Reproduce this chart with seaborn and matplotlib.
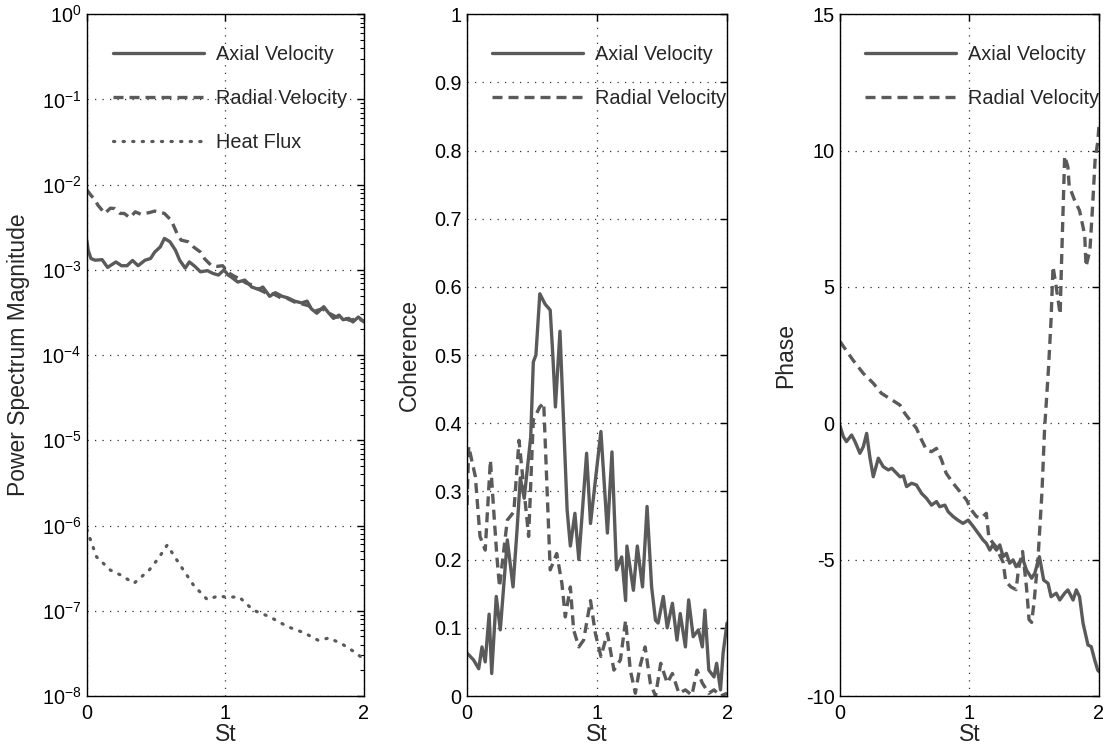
import numpy as np
import pandas as pd
import matplotlib
matplotlib.use("Agg")
import matplotlib.pyplot as plt
import matplotlib.ticker as mticker
import seaborn as sns

# ---- data ----
# panel 1: power spectrum magnitude (log scale)
psd_ax_st = [0.0, 0.01, 0.03, 0.06, 0.11, 0.15, 0.21, 0.25, 0.29, 0.33, 0.37, 0.42, 0.46, 0.49, 0.53,
             0.56, 0.60, 0.64, 0.67, 0.71, 0.74, 0.78, 0.82, 0.87, 0.91, 0.95, 0.99, 1.02, 1.04, 1.09,
             1.14, 1.19, 1.24, 1.27, 1.32, 1.36, 1.41, 1.45, 1.50, 1.55, 1.59, 1.62, 1.66, 1.71, 1.74,
             1.78, 1.82, 1.85, 1.89, 1.92, 1.96, 2.0]
psd_ax = [2.2e-3, 1.7e-3, 1.36e-3, 1.30e-3, 1.32e-3, 1.07e-3, 1.24e-3, 1.12e-3, 1.12e-3, 1.29e-3,
          1.12e-3, 1.30e-3, 1.36e-3, 1.62e-3, 1.86e-3, 2.34e-3, 2.14e-3, 1.70e-3, 1.30e-3, 1.05e-3,
          1.24e-3, 1.10e-3, 9.5e-4, 9.8e-4, 9.1e-4, 8.7e-4, 1.0e-3, 8.7e-4, 8.3e-4, 7.2e-4,
          7.6e-4, 6.3e-4, 5.9e-4, 6.3e-4, 4.9e-4, 5.4e-4, 4.9e-4, 4.7e-4, 4.3e-4, 4.1e-4,
          4.3e-4, 3.5e-4, 3.1e-4, 3.7e-4, 3.2e-4, 2.7e-4, 2.95e-4, 2.6e-4, 2.7e-4, 2.45e-4,
          2.8e-4, 2.45e-4]

psd_rad_st = [0.0, 0.03, 0.06, 0.08, 0.13, 0.17, 0.20, 0.24, 0.27, 0.31, 0.35, 0.39, 0.45, 0.49, 0.56,
              0.61, 0.65, 0.68, 0.73, 0.77, 0.82, 0.85, 0.90, 0.94, 0.98, 1.03, 1.06, 1.10, 1.15, 1.20,
              1.25, 1.30, 1.35, 1.40, 1.45, 1.50, 1.55, 1.60, 1.65, 1.70, 1.75, 1.80, 1.85, 1.90, 1.95,
              2.0]
psd_rad = [8.7e-3, 7.5e-3, 6.6e-3, 5.75e-3, 4.6e-3, 5.3e-3, 5.25e-3, 4.6e-3, 4.6e-3, 4.1e-3,
           4.8e-3, 4.5e-3, 4.7e-3, 4.9e-3, 4.6e-3, 3.8e-3, 2.7e-3, 2.24e-3, 2.14e-3, 1.86e-3,
           1.62e-3, 1.35e-3, 1.12e-3, 1.1e-3, 1.12e-3, 9.1e-4, 8.5e-4, 7.9e-4, 7.0e-4, 6.6e-4,
           5.8e-4, 5.3e-4, 5.2e-4, 4.7e-4, 4.6e-4, 4.2e-4, 4.0e-4, 3.8e-4, 3.3e-4, 3.5e-4,
           3.1e-4, 2.8e-4, 2.75e-4, 2.55e-4, 2.7e-4, 2.5e-4]

psd_hf_st = [0.0, 0.07, 0.17, 0.25, 0.34, 0.45, 0.52, 0.58, 0.67, 0.77, 0.87, 0.95, 1.0, 1.1, 1.2,
             1.32, 1.45, 1.57, 1.67, 1.75, 1.85, 1.93, 2.0]
psd_hf = [9.0e-7, 4.3e-7, 3.0e-7, 2.6e-7, 2.1e-7, 3.0e-7, 4.2e-7, 5.9e-7, 3.5e-7, 2.0e-7,
          1.35e-7, 1.5e-7, 1.45e-7, 1.45e-7, 1.02e-7, 8.5e-8, 6.5e-8, 5.5e-8, 4.5e-8, 4.8e-8,
          4.0e-8, 3.3e-8, 2.7e-8]
psd_ticks = [1e-8, 1e-7, 1e-6, 1e-5, 1e-4, 1e-3, 1e-2, 1e-1, 1e0]

# panel 2: coherence
coh_ax_st = [0.0, 0.05, 0.09, 0.115, 0.14, 0.17, 0.19, 0.225, 0.256, 0.31, 0.354, 0.385, 0.41, 0.44, 0.49,
             0.51, 0.53, 0.56, 0.60, 0.64, 0.66, 0.68, 0.715, 0.77, 0.795, 0.83, 0.86, 0.92, 0.95, 1.03,
             1.08, 1.115, 1.15, 1.19, 1.22, 1.23, 1.28, 1.31, 1.35, 1.385, 1.42, 1.45, 1.47, 1.51, 1.54,
             1.58, 1.615, 1.64, 1.68, 1.705, 1.74, 1.78, 1.81, 1.83, 1.86, 1.9, 1.92, 1.95, 1.97, 2.0]
coh_ax = [0.063, 0.053, 0.04, 0.072, 0.05, 0.12, 0.033, 0.146, 0.097, 0.229, 0.16, 0.244, 0.32, 0.29, 0.38,
          0.49, 0.50, 0.59, 0.575, 0.566, 0.50, 0.424, 0.535, 0.273, 0.22, 0.268, 0.2, 0.356, 0.253, 0.388,
          0.239, 0.358, 0.185, 0.204, 0.14, 0.22, 0.155, 0.22, 0.16, 0.278, 0.16, 0.111, 0.107, 0.146, 0.10,
          0.136, 0.082, 0.121, 0.072, 0.141, 0.087, 0.097, 0.072, 0.126, 0.038, 0.028, 0.048, 0.009, 0.063,
          0.107]

coh_rad_st = [0.0, 0.013, 0.064, 0.10, 0.14, 0.18, 0.205, 0.23, 0.25, 0.31, 0.36, 0.40, 0.436, 0.474, 0.51,
              0.56, 0.59, 0.615, 0.64, 0.69, 0.73, 0.756, 0.795, 0.82, 0.86, 0.897, 0.95, 0.987, 1.03, 1.08,
              1.13, 1.18, 1.22, 1.256, 1.295, 1.33, 1.37, 1.41, 1.45, 1.49, 1.54, 1.58, 1.63, 1.68, 1.73,
              1.77, 1.81, 1.86, 1.9, 1.95, 2.0]
coh_rad = [0.28, 0.366, 0.322, 0.234, 0.214, 0.346, 0.273, 0.204, 0.16, 0.258, 0.27, 0.375, 0.307, 0.234,
           0.405, 0.424, 0.43, 0.307, 0.185, 0.209, 0.165, 0.116, 0.16, 0.097, 0.072, 0.082, 0.14, 0.092,
           0.058, 0.092, 0.038, 0.053, 0.111, 0.038, 0.004, 0.043, 0.072, 0.019, 0.0, 0.048, 0.019, 0.033,
           0.004, 0.009, 0.001, 0.038, 0.019, 0.004, 0.009, 0.0, 0.004]

# panel 3: phase
ph_ax_st = [0.0, 0.026, 0.05, 0.09, 0.116, 0.154, 0.18, 0.206, 0.23, 0.257, 0.296, 0.334, 0.373, 0.4, 0.437,
            0.463, 0.49, 0.514, 0.553, 0.59, 0.63, 0.668, 0.707, 0.745, 0.77, 0.81, 0.835, 0.874, 0.91, 0.95,
            0.99, 1.03, 1.067, 1.105, 1.13, 1.157, 1.18, 1.208, 1.234, 1.26, 1.285, 1.31, 1.337, 1.36, 1.39,
            1.41, 1.44, 1.48, 1.504, 1.54, 1.573, 1.607, 1.63, 1.67, 1.697, 1.735, 1.76, 1.8, 1.825, 1.85,
            1.877, 1.915, 1.94, 1.967, 1.99, 2.0]
ph_ax = [-0.1, -0.49, -0.67, -0.43, -0.67, -1.1, -0.86, -0.37, -1.22, -1.96, -1.28, -1.59, -1.71, -1.65, -1.83,
         -1.96, -1.93, -2.32, -2.2, -2.26, -2.57, -2.75, -3.0, -2.87, -3.06, -3.0, -3.24, -3.42, -3.55, -3.67,
         -3.55, -3.79, -4.03, -4.28, -4.4, -4.65, -4.46, -4.65, -4.46, -4.89, -4.77, -5.13, -5.01, -5.26, -5.07,
         -4.95, -5.38, -5.68, -5.5, -4.89, -5.75, -5.87, -6.36, -6.23, -6.48, -6.23, -6.11, -6.48, -6.11, -6.36,
         -7.33, -8.13, -8.19, -8.68, -9.05, -9.1]

ph_rad_st = [0.0, 0.1, 0.18, 0.257, 0.32, 0.4, 0.463, 0.5, 0.54, 0.59, 0.63, 0.668, 0.707, 0.745, 0.784,
             0.82, 0.874, 0.925, 0.977, 1.015, 1.054, 1.09, 1.13, 1.15, 1.2, 1.26, 1.28, 1.32, 1.36, 1.38,
             1.41, 1.44, 1.46, 1.48, 1.50, 1.53, 1.56, 1.58, 1.61, 1.63, 1.645, 1.67, 1.7, 1.71, 1.735,
             1.76, 1.77, 1.81, 1.85, 1.89, 1.9, 1.93, 1.95, 1.97, 1.99, 2.0]
ph_rad = [3.0, 2.32, 1.83, 1.47, 1.1, 0.86, 0.67, 0.37, 0.12, -0.18, -0.61, -0.98, -1.04, -0.92, -1.34,
          -1.83, -2.2, -2.5, -2.81, -3.18, -3.42, -3.48, -3.3, -4.2, -4.5, -5.1, -5.8, -6.0, -6.1, -5.3,
          -4.7, -6.0, -7.2, -7.3, -6.5, -4.9, -2.5, -0.2, 2.0, 3.8, 5.75, 5.0, 4.0, 5.75, 9.8,
          9.4, 8.7, 8.2, 7.8, 6.9, 5.75, 6.35, 7.9, 9.65, 10.3, 10.9]

# ---- style ----
sns.set_style("white")
plt.rcParams['font.family'] = ['Liberation Sans', 'DejaVu Sans']
plt.rcParams['mathtext.default'] = 'regular'
plt.rcParams['axes.unicode_minus'] = False
plt.rcParams['axes.edgecolor'] = 'black'
plt.rcParams['axes.linewidth'] = 1.0

GRAY = '#5a5a5a'
LW = 2.4
SOLID = '-'
DASHED = (0, (3.0, 1.8))
DOTTED = (0, (0.4, 2.6))

fig = plt.figure(figsize=(11.13, 7.5), dpi=100)
ax1 = fig.add_axes([0.078, 0.072, 0.249, 0.909])
ax2 = fig.add_axes([0.4196, 0.072, 0.2336, 0.909])
ax3 = fig.add_axes([0.7547, 0.072, 0.2327, 0.909])


def draw(ax, st, vals, ls, label, lw=LW, cap='butt'):
    sns.lineplot(x=st, y=vals, ax=ax, color=GRAY, linewidth=lw, linestyle=ls,
                 label=label, estimator=None, sort=False, dash_capstyle=cap)


def finish(ax, xoff):
    ax.set_xlim(0, 2)
    ax.set_xticks([0, 1, 2])
    ax.set_xlabel('St', fontsize=16.5, labelpad=0)
    ax.grid(True, which='major', color='#333333', linestyle=(0, (1, 5)), linewidth=0.9)
    ax.tick_params(axis='both', which='both', direction='in', top=True, right=True,
                   labelsize=14.3, colors='black')
    ax.tick_params(axis='both', which='major', length=5, width=1, pad=6)
    ax.tick_params(axis='y', which='major', pad=4)
    ax.tick_params(axis='both', which='minor', length=3, width=0.8)
    for s in ax.spines.values():
        s.set_visible(True)
        s.set_color('black')
    ax.legend(loc='upper left', bbox_to_anchor=(xoff, 0.955), frameon=False,
              fontsize=14.3, handlelength=4.6, handletextpad=0.6, labelspacing=1.25,
              borderpad=0, borderaxespad=0)


# panel 1
draw(ax1, psd_ax_st, psd_ax, SOLID, 'Axial Velocity')
draw(ax1, psd_rad_st, psd_rad, DASHED, 'Radial Velocity')
draw(ax1, psd_hf_st, psd_hf, DOTTED, 'Heat Flux', lw=2.3, cap='round')
ax1.set_yscale('log')
ax1.set_ylim(1e-8, 1)
ax1.set_yticks(psd_ticks)
ax1.yaxis.set_major_formatter(mticker.LogFormatterSciNotation())
ax1.yaxis.set_minor_locator(mticker.LogLocator(base=10, subs=np.arange(2, 10), numticks=12))
ax1.yaxis.set_minor_formatter(mticker.NullFormatter())
ax1.set_ylabel('Power Spectrum Magnitude', fontsize=16.5, labelpad=8)
finish(ax1, 26 / 277)

# panel 2
draw(ax2, coh_ax_st, coh_ax, SOLID, 'Axial Velocity')
draw(ax2, coh_rad_st, coh_rad, DASHED, 'Radial Velocity')
ax2.set_ylim(0, 1)
ax2.set_yticks(np.arange(0, 1.01, 0.1))
ax2.yaxis.set_major_formatter(mticker.FuncFormatter(lambda v, p: '%g' % round(v, 1)))
ax2.set_ylabel('Coherence', fontsize=16.5, labelpad=9)
finish(ax2, 25 / 260)

# panel 3
draw(ax3, ph_ax_st, ph_ax, SOLID, 'Axial Velocity')
draw(ax3, ph_rad_st, ph_rad, DASHED, 'Radial Velocity')
ax3.set_ylim(-10, 15)
ax3.set_yticks([-10, -5, 0, 5, 10, 15])
ax3.set_ylabel('Phase', fontsize=16.5, labelpad=6)
finish(ax3, 25 / 259)

fig.savefig('out.png', dpi=100)
